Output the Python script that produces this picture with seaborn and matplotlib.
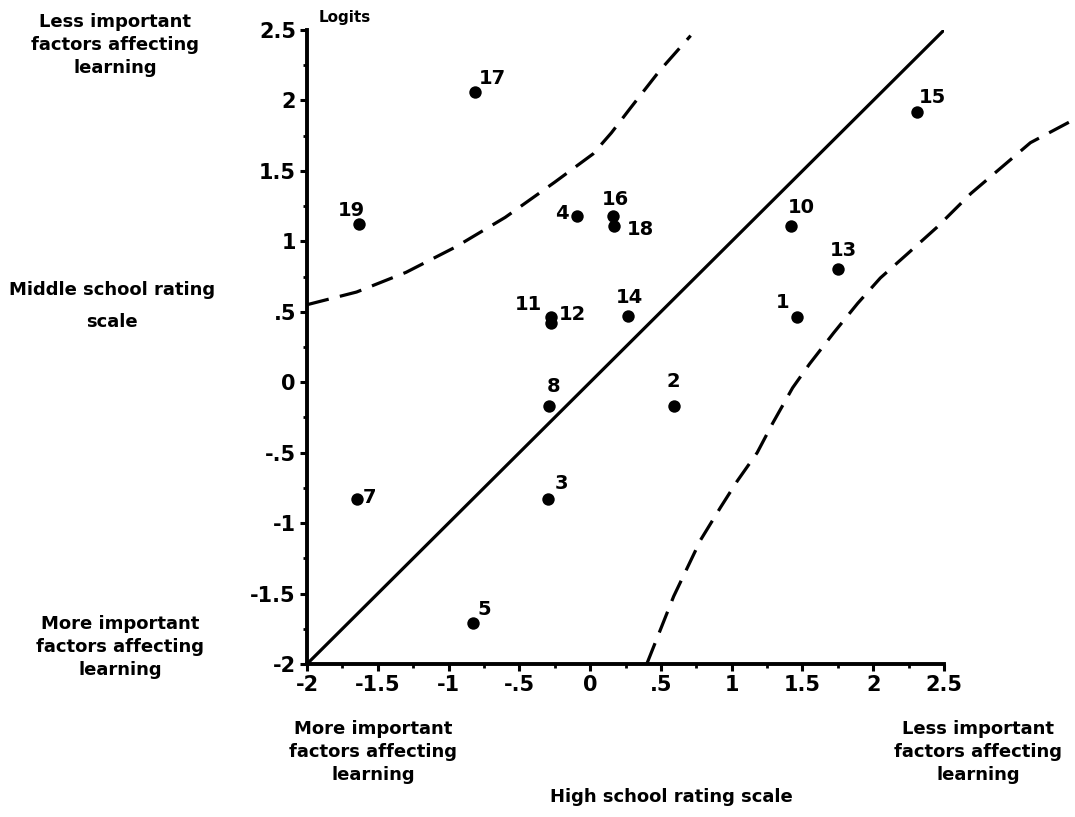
import numpy as np
import pandas as pd
import matplotlib
matplotlib.use("Agg")
import matplotlib.pyplot as plt
from matplotlib.ticker import MultipleLocator, FixedLocator
import seaborn as sns

# Item calibrations (logits) on the two rating scales
item_ids = [1, 2, 3, 4, 5, 7, 8, 10, 11, 12, 13, 14, 15, 16, 17, 18, 19]
high_school = [1.46, 0.59, -0.30, -0.09, -0.83, -1.65, -0.29, 1.42, -0.28, -0.28,
               1.75, 0.27, 2.31, 0.16, -0.81, 0.17, -1.63]
middle_school = [0.46, -0.17, -0.83, 1.18, -1.71, -0.83, -0.17, 1.11, 0.46, 0.42,
                 0.80, 0.47, 1.92, 1.18, 2.06, 1.11, 1.12]

# Identity line
identity = [-2.0, 2.5]

# Upper and lower control bands
upper_x = [-2.0, -1.65, -1.30, -0.95, -0.60, -0.25, 0.02, 0.15, 0.28, 0.49, 0.71]
upper_y = [0.55, 0.64, 0.78, 0.96, 1.17, 1.42, 1.62, 1.77, 1.94, 2.21, 2.46]
lower_x = [0.40, 0.59, 0.78, 0.92, 1.04, 1.18, 1.29, 1.43, 1.55, 1.72, 1.89,
           2.05, 2.24, 2.45, 2.69, 3.11, 3.41]
lower_y = [-2.00, -1.52, -1.12, -0.89, -0.70, -0.50, -0.29, -0.04, 0.13, 0.35, 0.56,
           0.74, 0.91, 1.10, 1.34, 1.70, 1.86]

tick_values = [-2, -1.5, -1, -0.5, 0, 0.5, 1, 1.5, 2, 2.5]
tick_labels = ["-2", "-1.5", "-1", "-.5", "0", ".5", "1", "1.5", "2", "2.5"]

# label offsets (points) for each item number
label_offsets = {1: (-10, 11), 2: (0, 18), 3: (10, 11), 4: (-11, 2), 5: (8, 10),
                 7: (9, 1), 8: (3, 14), 10: (7, 13), 11: (-16, 9), 12: (16, 6),
                 13: (4, 14), 14: (1, 13), 15: (11, 10), 16: (2, 12), 17: (12, 10),
                 18: (19, -3), 19: (-6, 10)}

sns.set_theme(style="ticks")
plt.rcParams["font.family"] = ["DejaVu Sans"]
plt.rcParams["font.weight"] = "bold"
plt.rcParams["text.color"] = "black"
plt.rcParams["axes.labelcolor"] = "black"
plt.rcParams["xtick.color"] = "black"
plt.rcParams["ytick.color"] = "black"

fig = plt.figure(figsize=(10.75, 8.17), dpi=100)
ax = fig.add_axes([0.2856, 0.1873, 0.5926, 0.776])

df = pd.DataFrame({"item": item_ids, "hs": high_school, "ms": middle_school})

sns.lineplot(x=identity, y=identity, ax=ax, color="black", lw=2.3, sort=False)
sns.lineplot(x=upper_x, y=upper_y, ax=ax, color="black", lw=2.3, sort=False,
             linestyle=(0, (7, 3.6)), clip_on=False)
sns.lineplot(x=lower_x, y=lower_y, ax=ax, color="black", lw=2.3, sort=False,
             linestyle=(0, (7, 3.6)), clip_on=False)
sns.scatterplot(data=df, x="hs", y="ms", ax=ax, color="black", s=80,
                edgecolor="black", linewidth=0, zorder=5)

for _, r in df.iterrows():
    ax.annotate(str(int(r["item"])), (r["hs"], r["ms"]),
                xytext=label_offsets[int(r["item"])], textcoords="offset points",
                ha="center", va="center", fontsize=14, fontweight="bold",
                color="black")

ax.set_xlim(-2, 2.5)
ax.set_ylim(-2, 2.5)
ax.xaxis.set_major_locator(FixedLocator(tick_values))
ax.yaxis.set_major_locator(FixedLocator(tick_values))
ax.set_xticklabels(tick_labels)
ax.set_yticklabels(tick_labels)
ax.xaxis.set_minor_locator(MultipleLocator(0.25))
ax.yaxis.set_minor_locator(MultipleLocator(0.25))
ax.tick_params(axis="both", which="major", length=5, width=2.2, direction="out",
               labelsize=15, pad=3, colors="black")
ax.tick_params(axis="both", which="minor", length=3, width=2, direction="out")
for lab in ax.get_xticklabels() + ax.get_yticklabels():
    lab.set_fontweight("bold")
ax.set_xlabel("")
ax.set_ylabel("")
sns.despine(ax=ax)
for side in ("left", "bottom"):
    ax.spines[side].set_linewidth(2.8)
    ax.spines[side].set_color("black")

txt = dict(fontsize=13, fontweight="bold", ha="center", va="center",
           linespacing=1.35, color="black")
fig.text(0.107, 0.945, "Less important\nfactors affecting\nlearning", **txt)
fig.text(0.104, 0.625, "Middle school rating\nscale", linespacing=2.0,
         **{k: v for k, v in txt.items() if k != "linespacing"})
fig.text(0.112, 0.208, "More important\nfactors affecting\nlearning", **txt)
fig.text(0.347, 0.080, "More important\nfactors affecting\nlearning", **txt)
fig.text(0.910, 0.080, "Less important\nfactors affecting\nlearning", **txt)
fig.text(0.625, 0.024, "High school rating scale", **txt)
fig.text(0.296, 0.978, "Logits", fontsize=11, fontweight="bold", ha="left",
         va="center", color="black")

fig.savefig("out.png", dpi=100, facecolor="white")
